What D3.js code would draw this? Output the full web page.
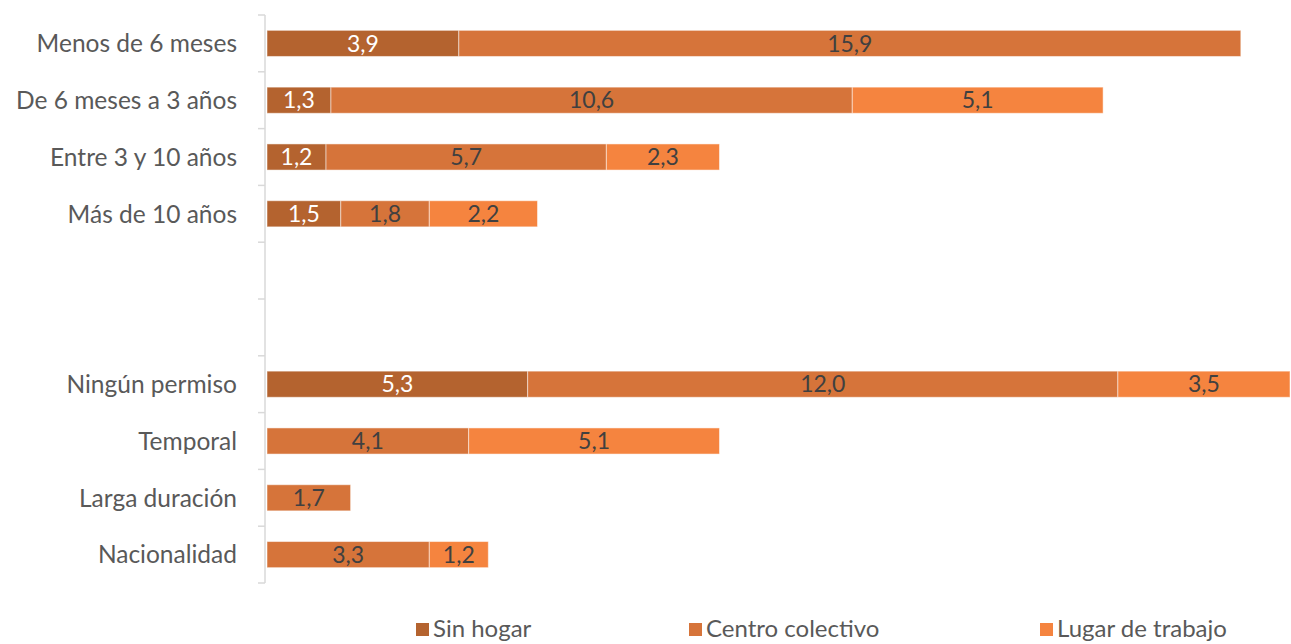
<!DOCTYPE html>
<html><head><meta charset="utf-8">
<script src="https://cdn.jsdelivr.net/npm/d3@7"></script>
<style>
html,body{margin:0;padding:0;background:#fff;}
svg{display:block;}
</style></head>
<body>
<svg id="c" width="1291" height="644"></svg>
<script>
const categories = ["Menos de 6 meses","De 6 meses a 3 años","Entre 3 y 10 años","Más de 10 años","__gap1","__gap2","Ningún permiso","Temporal","Larga duración","Nacionalidad"];
const seriesNames = ["Sin hogar","Centro colectivo","Lugar de trabajo"];
const sinHogar =        [3.9, 1.3, 1.2, 1.5, 0, 0, 5.3, 0,   0,   0];
const centroColectivo = [15.9,10.6,5.7, 1.8, 0, 0, 12.0,4.1, 1.7, 3.3];
const lugarTrabajo =    [0,   5.1, 2.3, 2.2, 0, 0, 3.5, 5.1, 0,   1.2];
const colors = ["#b4632f","#d6743a","#f5843f"];
const labelColors = ["#ffffff","#404040","#404040"];

(function(){
const svg = d3.select("#c");
const font = "Lato, 'Open Sans', sans-serif";
const axLeft = 265, axTop = 15, axBottom = 583;
const x = d3.scaleLinear().domain([0, 20.8]).range([axLeft + 2, 1290]);
const y = d3.scaleBand().domain(categories).range([axTop, axBottom]).paddingInner(0.54).paddingOuter(0.27);

const rows = categories.map((c,i)=>({cat:c, vals:[sinHogar[i], centroColectivo[i], lugarTrabajo[i]]}));
const series = seriesNames.map((s,k)=>rows.map(r=>{
  const x0 = r.vals.slice(0,k).reduce((a,b)=>a+b,0);
  return {cat:r.cat, k, v:r.vals[k], x0, x1:x0+r.vals[k]};
}).filter(d=>d.v>0));

series.forEach((ser,k)=>{
  const g = svg.append("g");
  g.selectAll("rect").data(ser).join("rect")
    .attr("x", d=>x(d.x0)).attr("width", d=>x(d.x1)-x(d.x0))
    .attr("y", d=>y(d.cat)).attr("height", y.bandwidth())
    .attr("fill", colors[k]).attr("stroke","#fff").attr("stroke-opacity",0.5).attr("stroke-width",1);
  g.selectAll("text").data(ser).join("text")
    .attr("x", d=>(x(d.x0)+x(d.x1))/2).attr("y", d=>y(d.cat)+y.bandwidth()/2)
    .attr("dy","0.36em").attr("text-anchor","middle")
    .attr("font-family", font).attr("font-size", 23).attr("fill", labelColors[k])
    .text(d=>d3.format(".1f")(d.v).replace(".", ","));
});

const ax = svg.append("g");
ax.append("line").attr("x1",axLeft).attr("x2",axLeft).attr("y1",axTop).attr("y2",axBottom).attr("stroke","#d9d9d9").attr("stroke-width",1.5);
const step = (axBottom-axTop)/categories.length;
d3.range(categories.length+1).forEach(i=>{
  ax.append("line").attr("x1",axLeft-7).attr("x2",axLeft).attr("y1",axTop+i*step).attr("y2",axTop+i*step).attr("stroke","#d9d9d9").attr("stroke-width",1.5);
});
ax.selectAll("text.cat").data(categories.filter(c=>!c.startsWith("__"))).join("text")
  .attr("class","cat").attr("x", axLeft-28).attr("y", d=>y(d)+y.bandwidth()/2).attr("dy","0.36em")
  .attr("text-anchor","end").attr("font-family",font).attr("font-size",24.5).attr("fill","#595959").text(d=>d);

const legX = [416, 689, 1040];
const lg = svg.append("g");
seriesNames.forEach((s,k)=>{
  lg.append("rect").attr("x",legX[k]).attr("y",623).attr("width",13).attr("height",13).attr("fill",colors[k]);
  lg.append("text").attr("x",legX[k]+17).attr("y",628).attr("dy","0.36em").attr("font-family",font).attr("font-size",24).attr("fill","#595959").text(s);
});
})();
</script>
</body></html>
